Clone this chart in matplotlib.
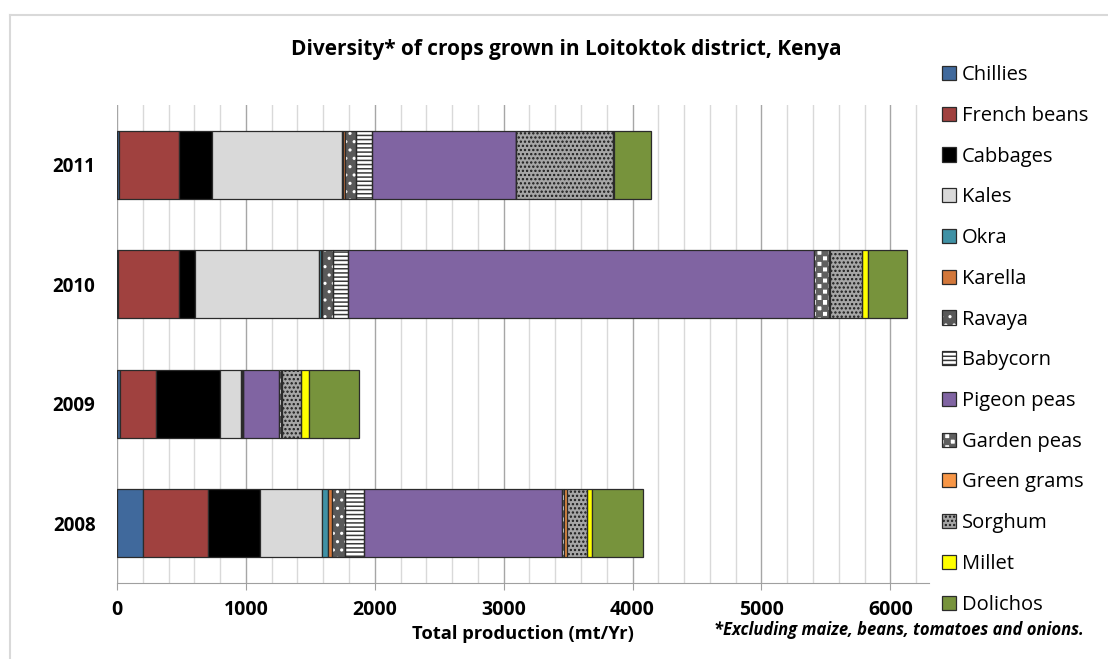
import warnings
import numpy as np
import matplotlib
matplotlib.use("Agg")
import matplotlib.pyplot as plt
import matplotlib.hatch as mhatch
from matplotlib.path import Path
from matplotlib.patches import Patch
from matplotlib.lines import Line2D
from matplotlib.legend_handler import HandlerTuple

warnings.filterwarnings("ignore")

years = ["2008", "2009", "2010", "2011"]
crops = ["Chillies", "French beans", "Cabbages", "Kales", "Okra", "Karella",
         "Ravaya", "Babycorn", "Pigeon peas", "Garden peas", "Green grams",
         "Sorghum", "Millet", "Dolichos"]

# production (mt/Yr) per crop, in order 2008, 2009, 2010, 2011
chillies = [200, 26, 8, 14]
french_beans = [505, 279, 472, 467]
cabbages = [406, 494, 126, 258]
kales = [483, 163, 963, 1003]
okra = [40, 5, 12, 11]
karella = [35, 3, 10, 14]
ravaya = [97, 8, 81, 85]
babycorn = [150, 0, 122, 125]
pigeon_peas = [1533, 282, 3610, 1119]
garden_peas = [20, 12, 118, 0]
green_grams = [25, 5, 10, 0]
sorghum = [155, 152, 248, 750]
millet = [39, 57, 45, 10]
dolichos = [394, 390, 305, 288]

series = [chillies, french_beans, cabbages, kales, okra, karella, ravaya,
          babycorn, pigeon_peas, garden_peas, green_grams, sorghum, millet,
          dolichos]

# (face colour, hatch, hatch colour)
styles = [
    ("#40699C", None, None),
    ("#A0413F", None, None),
    ("#000000", None, None),
    ("#D9D9D9", None, None),
    ("#3F91A5", None, None),
    ("#D2773A", None, None),
    ("#595959", "..", "white"),
    ("#FFFFFF", "----", "#3A3A3A"),
    ("#8064A2", None, None),
    ("#FFFFFF", "ccc", "#5F5F5F"),
    ("#F79646", None, None),
    ("#A6A6A6", "....", "#1A1A1A"),
    ("#FFFF00", None, None),
    ("#77933C", None, None),
]


class CheckerHatch(mhatch.HatchPatternBase):
    """Checkerboard fill, selected with the letter 'c' in a hatch string."""
    filled = True

    def __init__(self, hatch, density):
        self.num_cells = hatch.count("c") * density
        n = self.num_cells
        self.num_vertices = (n * n // 2) * 5

    def set_vertices_and_codes(self, vertices, codes):
        n = self.num_cells
        s = 1.0 / n
        sq = np.array([[0, 0], [s, 0], [s, s], [0, s], [0, 0]], float)
        k = 0
        for i in range(n):
            for j in range(n):
                if (i + j) % 2 == 0:
                    vertices[k:k + 5] = sq + [i * s, j * s]
                    codes[k] = Path.MOVETO
                    codes[k + 1:k + 4] = Path.LINETO
                    codes[k + 4] = Path.CLOSEPOLY
                    k += 5


mhatch._hatch_types.append(CheckerHatch)
plt.rcParams["hatch.linewidth"] = 1.1
plt.rcParams["font.family"] = ["Open Sans", "DejaVu Sans"]

fig = plt.figure(figsize=(11.08, 6.59), dpi=100)
ax = fig.add_axes([117 / 1108, 1 - 583 / 659, 812 / 1108, 478 / 659])

y = np.arange(len(years))
left = np.zeros(len(years))
edge = "#2B2B2B"
handles = []
for name, vals, (fc, hatch, hc) in zip(crops, series, styles):
    vals = np.array(vals, float)
    if hatch:
        ax.barh(y, vals, left=left, height=0.57, color=fc, hatch=hatch,
                edgecolor=hc, linewidth=0, zorder=3)
        ax.barh(y, vals, left=left, height=0.57, fill=False,
                edgecolor=edge, linewidth=0.9, zorder=4)
        h = (Patch(facecolor=fc, hatch=hatch, edgecolor=hc, linewidth=0),
             Patch(fill=False, edgecolor=edge, linewidth=0.9))
    else:
        ax.barh(y, vals, left=left, height=0.57, color=fc,
                edgecolor=edge, linewidth=0.9, zorder=3)
        h = Patch(facecolor=fc, edgecolor=edge, linewidth=0.9)
    handles.append(h)
    left += vals

ax.set_xlim(0, 6300)
ax.set_ylim(-0.5, 3.5)
ax.set_yticks(y)
ax.set_yticklabels(years, fontsize=13.5, fontweight="bold")
ax.tick_params(axis="y", length=0, pad=15.5)
ax.set_xticks(np.arange(0, 6001, 1000))
ax.set_xticks(np.arange(0, 6300, 200), minor=True)
ax.tick_params(axis="x", which="major", length=5, color="#A0A0A0",
               labelsize=14, pad=7)
ax.tick_params(axis="x", which="minor", length=0)
for lbl in ax.get_xticklabels():
    lbl.set_fontweight("bold")
ax.grid(axis="x", which="minor", color="#D9D9D9", linewidth=1, zorder=0)
ax.grid(axis="x", which="major", color="#A6A6A6", linewidth=1, zorder=1)
for side in ["top", "right", "left"]:
    ax.spines[side].set_visible(False)
ax.spines["bottom"].set_color("#A0A0A0")
ax.set_axisbelow(True)

ax.set_xlabel("Total production (mt/Yr)", fontsize=13.2, fontweight="bold",
              labelpad=3.5)
fig.text(566 / 1108, 1 - 50 / 659,
         "Diversity* of crops grown in Loitoktok district, Kenya",
         ha="center", va="center", fontsize=15, fontweight="bold")
fig.text(1084 / 1108, 1 - 630 / 659,
         "*Excluding maize, beans, tomatoes and onions.",
         ha="right", va="center", fontsize=12, fontweight="bold",
         style="italic")

fig.legend(handles, crops, loc="upper left",
           bbox_to_anchor=(932 / 1108, 1 - 55 / 659), frameon=False,
           fontsize=14.5, handlelength=0.7, handleheight=0.7,
           handletextpad=0.3, labelspacing=1.03, borderpad=0,
           handler_map={tuple: HandlerTuple(ndivide=1)})

# light frame round the chart area
fig.add_artist(Line2D([10 / 1108, 10 / 1108], [0, 1 - 15 / 659],
                      transform=fig.transFigure, color="#D9D9D9", lw=1.5))
fig.add_artist(Line2D([10 / 1108, 1], [1 - 15 / 659, 1 - 15 / 659],
                      transform=fig.transFigure, color="#D9D9D9", lw=1.5))

fig.savefig("out.png", dpi=100)
